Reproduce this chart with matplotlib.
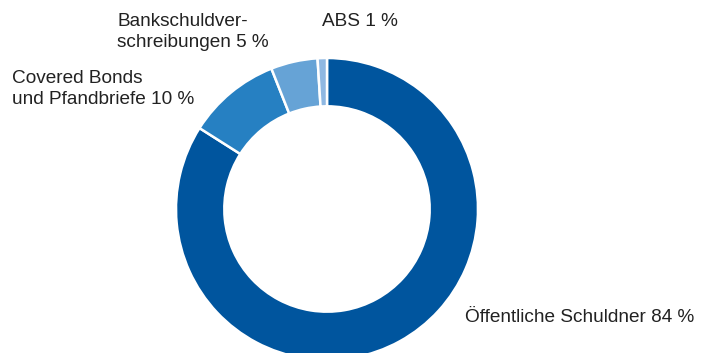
import matplotlib
matplotlib.use("Agg")
import matplotlib.pyplot as plt

plt.rcParams['font.family'] = ['Liberation Sans', 'DejaVu Sans']

labels = ["Öffentliche Schuldner 84 %", "Covered Bonds\nund Pfandbriefe 10 %",
          "Bankschuldver-\nschreibungen 5 %", "ABS 1 %"]
shares = [84, 10, 5, 1]
colors = ["#00559e", "#2680c2", "#66a3d6", "#8fb8e2"]

# label anchor positions in pixels (left edge, vertical centre)
label_px = [(465, 318), (12, 89), (117, 32), (322, 22)]

W, H = 712, 353
fig = plt.figure(figsize=(W / 100, H / 100), dpi=100)
ax = fig.add_axes([0, 0, 1, 1])

cx, cy, r = 327, 209, 151
ax.pie(shares, colors=colors, startangle=90, counterclock=False, radius=1,
       wedgeprops=dict(width=0.32, edgecolor="white", linewidth=1.8))
ax.set_aspect("auto")
ax.set_xlim(-cx / r, (W - cx) / r)
ax.set_ylim(-(H - cy) / r, cy / r)
ax.axis("off")

for text, (x, y) in zip(labels, label_px):
    fig.text(x / W, 1 - y / H, text, ha="left", va="center", fontsize=13.7,
             color="#222222", linespacing=1.38)

fig.savefig("out.png", dpi=100)
